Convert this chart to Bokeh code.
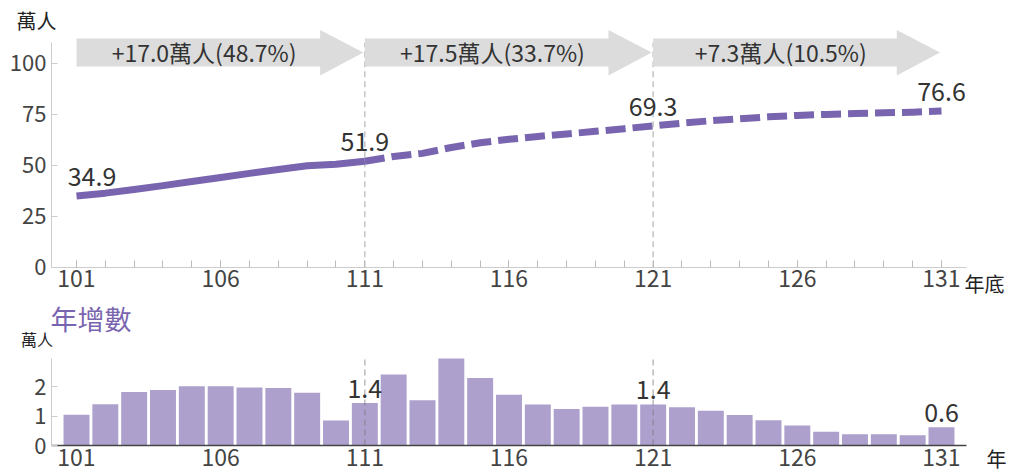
from bokeh.plotting import figure
from bokeh.models import Range1d, FixedTicker, Label, ColumnDataSource
from bokeh.layouts import column
from bokeh.embed import file_html
from bokeh.resources import INLINE
from bokeh.core.properties import value

# ---------------- data ----------------
years = list(range(101, 132))
population = [34.9, 36.3, 38.1, 40.0, 42.0, 44.0, 46.0, 47.9, 49.7, 50.5, 51.9,
              54.3, 55.8, 58.7, 61.0, 62.7, 64.1, 65.3, 66.6, 67.9, 69.3,
              70.6, 71.8, 72.8, 73.7, 74.4, 74.9, 75.3, 75.7, 76.0, 76.6]
annual_increase = [1.04, 1.40, 1.81, 1.88, 2.01, 2.01, 1.97, 1.95, 1.79, 0.85, 1.44,
                   2.41, 1.53, 2.95, 2.29, 1.72, 1.39, 1.24, 1.31, 1.39, 1.39,
                   1.30, 1.18, 1.03, 0.86, 0.68, 0.47, 0.38, 0.38, 0.35, 0.62]
actual_end_year = 111
milestone_years = [101, 111, 121, 131]
period_starts = [101, 111, 121]
period_ends = [111, 121, 131]
period_labels = ["+17.0萬人(48.7%)", "+17.5萬人(33.7%)", "+7.3萬人(10.5%)"]
divider_years = [111, 121]
bar_label_years = [111, 121, 131]
x_tick_years = [101, 106, 111, 116, 121, 126, 131]
top_y_ticks = [0, 25, 50, 75, 100]
bottom_y_ticks = [0, 1, 2]
unit_label = "萬人"
top_x_label = "年底"
bottom_x_label = "年"
bottom_title = "年增數"

# ---------------- style / layout ----------------
FONT = "Noto Sans CJK TC"
PURPLE = "#7965af"
BAR = "#ada0cc"
ARROW = "#dcdcdc"
TXT = "#333333"
TICK_TXT = "#444444"
W = 1013
PX_PER_YEAR = 28.833
X0 = 101 - 76 / PX_PER_YEAR
X1 = X0 + W / PX_PER_YEAR
AX_X0, AX_X1 = 100.133, 131.867

H1 = 299
TOP_PX = 2.04          # px per 萬人 in top chart
TOP_ZERO = 266.7       # page y of 0 in top chart
H2 = 472 - H1
BOT_PX = 29.5
BOT_ZERO_PAGE = 445.0  # page y of 0 in bottom chart
BOT_ZERO = BOT_ZERO_PAGE - H1


def px_x(px):
    return 101 + (px - 76) / PX_PER_YEAR


def top_y(py):
    return (TOP_ZERO - py) / TOP_PX


def bot_y(py):
    return (BOT_ZERO_PAGE - py) / BOT_PX


def make_fig(h, y0, y1):
    p = figure(width=W, height=h, output_backend="svg", toolbar_location=None,
               x_range=Range1d(X0, X1), y_range=Range1d(y0, y1),
               min_border_left=0, min_border_right=0, min_border_top=0,
               min_border_bottom=0)
    p.xgrid.visible = False
    p.ygrid.visible = False
    p.outline_line_color = None
    p.border_fill_color = "white"
    for ax in (p.xaxis[0], p.yaxis[0]):
        ax.major_label_text_font = FONT
        ax.major_label_text_color = TICK_TXT
        ax.major_tick_out = 0
        ax.minor_tick_out = 0
    p.xaxis.major_label_text_font_size = "23px"
    p.yaxis.major_label_text_font_size = "22px"
    p.xaxis.fixed_location = 0
    p.yaxis.fixed_location = AX_X0
    p.xaxis.bounds = (AX_X0, AX_X1)
    return p


# ---------------- top chart ----------------
p1 = make_fig(H1, -(H1 - TOP_ZERO) / TOP_PX, TOP_ZERO / TOP_PX)
p1.xaxis.axis_line_color = "#cccccc"
p1.yaxis.axis_line_color = "#cccccc"
p1.xaxis.ticker = FixedTicker(ticks=x_tick_years, minor_ticks=years)
p1.xaxis.major_tick_in = 7
p1.xaxis.minor_tick_in = 7
p1.xaxis.major_tick_line_color = "#bbbbbb"
p1.xaxis.minor_tick_line_color = "#bbbbbb"
p1.xaxis.major_label_standoff = 3
p1.yaxis.ticker = FixedTicker(ticks=top_y_ticks, minor_ticks=[])
p1.yaxis.bounds = (0, 110)
p1.yaxis.major_tick_in = 6
p1.yaxis.major_tick_line_color = "#cccccc"
p1.yaxis.major_label_standoff = 5

# divider lines
p1.segment(x0=divider_years, y0=[0] * len(divider_years), x1=divider_years,
           y1=[110] * len(divider_years), line_color="#c4c4c4", line_width=1.5,
           line_dash="6 4")

# arrows
body_lo, body_hi, head_lo, head_hi = 98.4, 112.1, 94.0, 116.3
head_len = 1.5
xs, ys = [], []
for s, e in zip(period_starts, period_ends):
    tip = e - 0.05
    hs = tip - head_len
    xs.append([s, hs, hs, tip, hs, hs, s])
    ys.append([body_lo, body_lo, head_lo, (body_lo + body_hi) / 2, head_hi, body_hi, body_hi])
p1.patches(xs=xs, ys=ys, fill_color=ARROW, line_color=None)
label_x = [(s + e - 0.05 - head_len) / 2 + 0.2 for s, e in zip(period_starts, period_ends)]
p1.text(x=label_x, y=[(body_lo + body_hi) / 2] * len(label_x), text=period_labels,
        text_font=value(FONT), text_font_size="23px", text_color=TXT,
        text_align="center", text_baseline="middle")

# line
split = years.index(actual_end_year) + 1
p1.line(years[:split], population[:split], line_color=PURPLE, line_width=7,
        line_join="round", line_cap="butt")
p1.line(years[split - 1:], population[split - 1:], line_color=PURPLE, line_width=7,
        line_dash="20 7", line_join="round", line_cap="butt")

# value labels (text centre ~19px above the point)
lift1 = 19.5 / TOP_PX
lab_src = ColumnDataSource(dict(
    x=[y + (15.5 / PX_PER_YEAR if y == years[0] else 0) for y in milestone_years],
    y=[population[years.index(y)] + lift1 for y in milestone_years],
    t=["%.1f" % population[years.index(y)] for y in milestone_years],
))
p1.text(x="x", y="y", text="t", source=lab_src,
        text_font=value(FONT), text_font_size="25px", text_color=TXT,
        text_align="center", text_baseline="middle")

p1.add_layout(Label(x=px_x(36), y=top_y(20), text=unit_label, text_font=FONT,
                    text_font_size="20px", text_color="#222222",
                    text_align="center", text_baseline="middle"))
p1.add_layout(Label(x=px_x(964), y=top_y(283), text=top_x_label, text_font=FONT,
                    text_font_size="20px", text_color="#222222",
                    text_align="left", text_baseline="middle"))

# ---------------- bottom chart ----------------
p2 = make_fig(H2, -(H2 - BOT_ZERO) / BOT_PX, BOT_ZERO / BOT_PX)
p2.xaxis.axis_line_color = "#444444"
p2.xaxis.axis_line_width = 1.5
p2.yaxis.axis_line_color = "#cccccc"
p2.xaxis.ticker = FixedTicker(ticks=x_tick_years, minor_ticks=[])
p2.xaxis.major_tick_in = 0
p2.xaxis.minor_tick_in = 0
p2.xaxis.major_label_standoff = 3
p2.yaxis.ticker = FixedTicker(ticks=bottom_y_ticks, minor_ticks=[])
p2.yaxis.bounds = (0, 2.95)
p2.yaxis.major_tick_in = 6
p2.yaxis.major_tick_line_color = "#cccccc"
p2.yaxis.major_label_standoff = 5

p2.vbar(x=years, top=annual_increase, width=0.9, fill_color=BAR, line_color=None)
p2.segment(x0=divider_years, y0=[0] * len(divider_years), x1=divider_years,
           y1=[2.95] * len(divider_years), line_color="#777777", line_alpha=0.5,
           line_width=1.5, line_dash="6 4")

lift2 = 15 / BOT_PX
bar_src = ColumnDataSource(dict(
    x=bar_label_years,
    y=[annual_increase[years.index(y)] + lift2 for y in bar_label_years],
    t=["%.1f" % annual_increase[years.index(y)] for y in bar_label_years],
))
p2.text(x="x", y="y", text="t", source=bar_src,
        text_font=value(FONT), text_font_size="25px", text_color=TXT,
        text_align="center", text_baseline="middle")

p2.add_layout(Label(x=px_x(50), y=bot_y(318), text=bottom_title, text_font=FONT,
                    text_font_size="27px", text_color=PURPLE,
                    text_align="left", text_baseline="middle"))
p2.add_layout(Label(x=px_x(36.5), y=bot_y(338), text=unit_label, text_font=FONT,
                    text_font_size="16px", text_color="#222222",
                    text_align="center", text_baseline="middle"))
p2.add_layout(Label(x=px_x(986), y=bot_y(457.5), text=bottom_x_label, text_font=FONT,
                    text_font_size="20px", text_color="#222222",
                    text_align="left", text_baseline="middle"))

layout = column(p1, p2)
open("out.html", "w").write(file_html(layout, INLINE))
